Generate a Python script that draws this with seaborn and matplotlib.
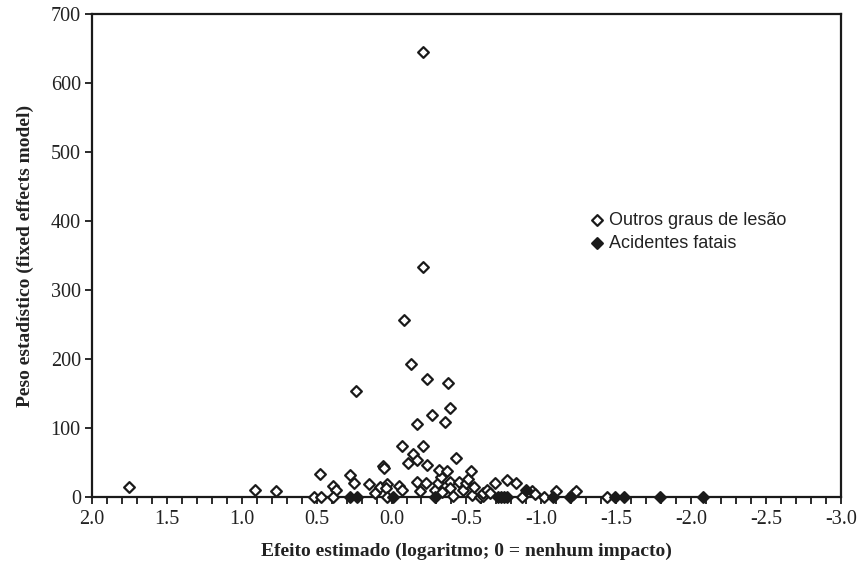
import matplotlib
matplotlib.use("Agg")
import matplotlib.pyplot as plt
import seaborn as sns
import pandas as pd
from matplotlib.ticker import MultipleLocator, FormatStrFormatter

# Outros graus de lesão (hollow diamonds)
outros_x = [1.75, 0.91, 0.77, 0.52, 0.48, 0.47, 0.39, 0.37, 0.39, 0.28, 0.25, 0.24,
            0.15, 0.11, 0.08, 0.06, 0.05, 0.03, 0.04, 0.03, -0.05, -0.07, -0.07, -0.08,
            -0.11, -0.13, -0.14, -0.17, -0.17, -0.17, -0.19, -0.21, -0.21, -0.21, -0.23,
            -0.24, -0.24, -0.27, -0.29, -0.31, -0.33, -0.32, -0.34, -0.36, -0.37, -0.38,
            -0.39, -0.39, -0.39, -0.41, -0.43, -0.45, -0.48, -0.50, -0.51, -0.53, -0.54,
            -0.55, -0.59, -0.61, -0.61, -0.64, -0.66, -0.69, -0.77, -0.83, -0.87, -0.94,
            -0.96, -1.02, -1.10, -1.21, -1.23, -1.44]
outros_y = [15, 10, 9, 1, 33, 0, 17, 10, 0, 32, 21, 154,
            19, 6, 15, 46, 42, 19, 13, 1, 16, 10, 74, 257,
            50, 193, 62, 54, 106, 22, 9, 74, 333, 645, 20,
            47, 171, 119, 10, 20, 29, 39, 7, 109, 38, 166,
            129, 22, 13, 2, 57, 22, 10, 20, 27, 38, 3,
            15, 1, 2, 6, 10, 6, 20, 25, 21, 1, 9,
            4, 1, 9, 4, 9, 1]

# Acidentes fatais (filled diamonds)
fatais_x = [0.28, 0.23, -0.01, -0.29, -0.71, -0.73, -0.75, -0.77, -0.90, -1.08,
            -1.19, -1.49, -1.55, -1.79, -2.08]
fatais_y = [0, 1, 0, 0, 0, 1, 0, 1, 10, 1,
            0, 0, 0, 0, 0]

x_ticks = [2.0, 1.5, 1.0, 0.5, 0.0, -0.5, -1.0, -1.5, -2.0, -2.5, -3.0]
y_ticks = [0, 100, 200, 300, 400, 500, 600, 700]

df_o = pd.DataFrame({"x": outros_x, "y": outros_y})
df_f = pd.DataFrame({"x": fatais_x, "y": fatais_y})

sns.set_style("white")
plt.rcParams["font.family"] = ["Liberation Serif", "DejaVu Serif"]

fig = plt.figure(figsize=(8.59, 5.67), dpi=100)
ax = fig.add_axes([0.107, 0.123, 0.872, 0.852])

ink = "#1a1a1a"
sns.scatterplot(data=df_o, x="x", y="y", ax=ax, marker="D", s=30,
                facecolor="white", edgecolor=ink, linewidth=1.6,
                label="Outros graus de lesão", zorder=3)
sns.scatterplot(data=df_f, x="x", y="y", ax=ax, marker="D", s=30,
                color=ink, edgecolor=ink, linewidth=1.6,
                label="Acidentes fatais", zorder=4)

ax.set_xlim(2.0, -3.0)
ax.set_ylim(0, 700)
ax.set_xticks(x_ticks)
ax.set_yticks(y_ticks)
ax.xaxis.set_major_formatter(FormatStrFormatter("%.1f"))
ax.xaxis.set_minor_locator(MultipleLocator(0.1))
ax.tick_params(axis="both", which="both", bottom=True, left=True, top=False, right=False)
ax.tick_params(axis="both", which="major", direction="out", length=5, width=1.3,
               color=ink, labelsize=14.5, labelcolor="#222222")
ax.tick_params(axis="x", which="minor", direction="out", length=5, width=1.3, color=ink)
ax.tick_params(axis="x", pad=4)
ax.tick_params(axis="y", pad=3)
for c in ax.collections:
    c.set_clip_on(False)

for sp in ax.spines.values():
    sp.set_visible(True)
    sp.set_color(ink)
    sp.set_linewidth(1.6)

ax.set_xlabel("Efeito estimado (logaritmo; 0 = nenhum impacto)", fontsize=14,
              fontweight="bold", color="#222222", labelpad=10)
ax.set_ylabel("Peso estadístico (fixed effects model)", fontsize=14,
              fontweight="bold", color="#222222", labelpad=12)

leg = ax.legend(loc="upper left", bbox_to_anchor=(0.652, 0.605), frameon=False,
                prop={"family": ["Liberation Sans", "DejaVu Sans"], "size": 13},
                handletextpad=0.2, labelspacing=0.3, borderaxespad=0,
                handlelength=1.0)
for t in leg.get_texts():
    t.set_color("#222222")

fig.savefig("out.png", dpi=100)
